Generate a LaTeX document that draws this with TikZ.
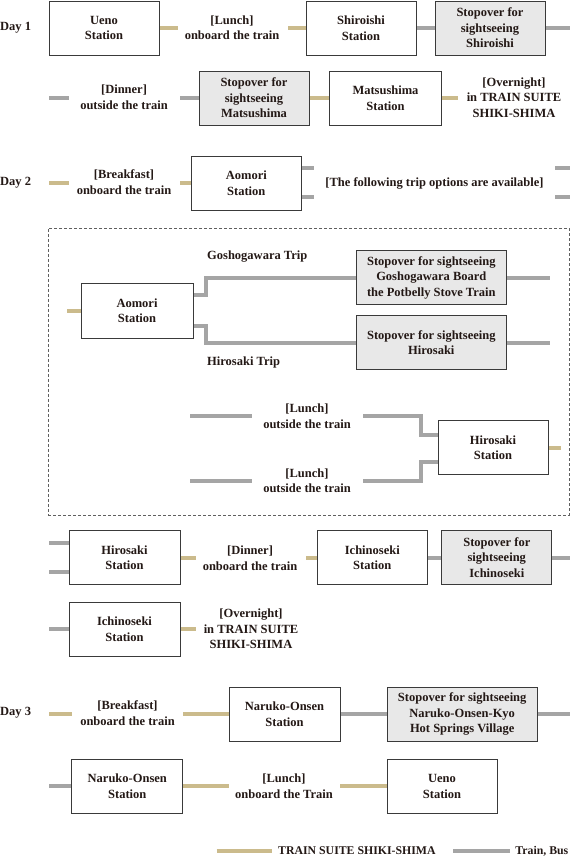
\documentclass[tikz,border=0pt]{standalone}
\usepackage{fontspec}
\setmainfont{Liberation Serif}
\usetikzlibrary{backgrounds}
\definecolor{goldl}{HTML}{CBBB8C}
\definecolor{greyl}{HTML}{A5A5A5}
\definecolor{stopfill}{HTML}{E8E8E8}
\definecolor{boxline}{HTML}{3A3A3A}
\definecolor{txt}{HTML}{231815}
\definecolor{dashc}{HTML}{606060}
\begin{document}
\begin{tikzpicture}[x=1pt,y=-1pt,
  every node/.style={font=\bfseries\fontsize{12.5}{15.5}\selectfont, text=txt, align=center, inner sep=0pt},
  stn/.style={draw=boxline, line width=0.9pt, fill=white, minimum width=110pt, minimum height=54pt},
  stop/.style={stn, fill=stopfill},
  wide/.style={minimum width=150pt},
  gl/.style={draw=goldl, line width=4pt},
  gr/.style={draw=greyl, line width=4pt},
  legtext/.style={font=\bfseries\fontsize{11.8}{14}\selectfont},
  optframe/.style={draw=dashc, line width=0.8pt, dash pattern=on 3pt off 2pt}
  ]
\useasboundingbox (0,0) rectangle (570,857);

% ---------- Day 1 ----------
\node[anchor=west] (day1) at (0,28) {Day 1};
\node[stn] (ueno1) at (104,28) {Ueno\\Station};
\node (lunch1) at (232,27.5) {[Lunch]\\onboard the train};
\node[stn] (shiro) at (361,28) {Shiroishi\\Station};
\node[stop] (stopshiro) at (490,28) {Stopover for\\sightseeing\\Shiroishi};
\coordinate (c1a) at (178,28);
\coordinate (c1b) at (288,28);
\coordinate (c1c) at (570,28);

\coordinate (c2a) at (49,98);
\coordinate (c2b) at (69,98);
\coordinate (c2c) at (180,98);
\coordinate (c2d) at (458,98);
\node (dinner1) at (124,97) {[Dinner]\\outside the train};
\node[stop] (stopmatsu) at (254,98) {Stopover for\\sightseeing\\Matsushima};
\node[stn, minimum width=112pt] (matsu) at (385.5,98) {Matsushima\\Station};
\node (night1) at (514,97.5) {[Overnight]\\in TRAIN SUITE\\SHIKI-SHIMA};

% ---------- Day 2 ----------
\node[anchor=west] (day2) at (0,183) {Day 2};
\coordinate (d2a) at (49,183);
\coordinate (d2b) at (69,183);
\coordinate (d2c) at (180,183);
\node (bf2) at (124,182) {[Breakfast]\\onboard the train};
\node[stn] (aomori1) at (246.3,183) {Aomori\\Station};
\coordinate (d2s1) at (314,168);
\coordinate (d2s2) at (314,197);
\coordinate (d2r1) at (555,168);
\coordinate (d2r1e) at (570,168);
\coordinate (d2r2) at (555,197);
\coordinate (d2r2e) at (570,197);
\node (options) at (434.5,183) {[The following trip options are available]};

% ---------- options frame ----------
\node[optframe, minimum width=521pt, minimum height=287pt] (optbox) at (308.5,371.5) {};
\node[stn, minimum width=112pt, minimum height=55pt] (aomori2) at (137,310.5) {Aomori\\Station};
\coordinate (o0) at (67,310.5);
\node[stop, wide] (gosho) at (431.3,277.5) {Stopover for sightseeing\\Goshogawara Board\\the Potbelly Stove Train};
\node[stop, wide] (hirostop) at (431.3,342.5) {Stopover for sightseeing\\Hirosaki};
\coordinate (ge) at (550,277.5);
\coordinate (he) at (550,342.5);
\node[anchor=west] (goshotrip) at (207,257) {Goshogawara Trip};
\node[anchor=west] (hirotrip) at (207,362) {Hirosaki Trip};

\node (lunch2a) at (307,416) {[Lunch]\\outside the train};
\node (lunch2b) at (307,480.5) {[Lunch]\\outside the train};
\node[stn] (hirosta) at (493,447.7) {Hirosaki\\Station};
\coordinate (la0) at (190,415.6);
\coordinate (la1) at (252,415.6);
\coordinate (la2) at (363,415.6);
\coordinate (lb0) at (190,481);
\coordinate (lb1) at (252,481);
\coordinate (lb2) at (363,481);
\coordinate (hs) at (561,447.7);

% ---------- Day 2 afternoon ----------
\node[stn, minimum width=111pt] (hirosta2) at (124.5,557.5) {Hirosaki\\Station};
\coordinate (h2a) at (49,542.7);
\coordinate (h2b) at (49,572.3);
\coordinate (h2c) at (196,557.5);
\node (dinner2) at (250,558) {[Dinner]\\onboard the train};
\coordinate (h2d) at (306,557.5);
\node[stn] (ichi) at (372.3,557.5) {Ichinoseki\\Station};
\node[stop] (stopichi) at (496.8,557.5) {Stopover for\\sightseeing\\Ichinoseki};
\coordinate (h2e) at (570,557.5);

\node[stn, minimum width=111pt] (ichi2) at (124.5,629.3) {Ichinoseki\\Station};
\coordinate (i2a) at (49,629.3);
\coordinate (i2b) at (196,629.3);
\node (night2) at (251,629) {[Overnight]\\in TRAIN SUITE\\SHIKI-SHIMA};

% ---------- Day 3 ----------
\node[anchor=west] (day3) at (0,713) {Day 3};
\coordinate (d3a) at (49,714);
\coordinate (d3b) at (72,714);
\node (bf3) at (127.5,713) {[Breakfast]\\onboard the train};
\coordinate (d3c) at (183,714);
\node[stn, minimum width=111pt] (naruko) at (284.5,714) {Naruko-Onsen\\Station};
\node[stop, wide] (stopnaruko) at (462.2,714) {Stopover for sightseeing\\Naruko-Onsen-Kyo\\Hot Springs Village};
\coordinate (d3e) at (570,714);

\node[stn, minimum width=111pt] (naruko2) at (127.3,786.3) {Naruko-Onsen\\Station};
\coordinate (n2a) at (49,786.3);
\coordinate (n2b) at (229,786.3);
\node (lunch3) at (284,786) {[Lunch]\\onboard the Train};
\coordinate (n2c) at (340,786.3);
\node[stn] (ueno2) at (442,786.3) {Ueno\\Station};

% ---------- legend ----------
\coordinate (lg1) at (216.7,851.2);
\coordinate (lg2) at (271.7,851.2);
\node[legtext, anchor=west] (lgt1) at (278,851) {TRAIN SUITE SHIKI-SHIMA};
\coordinate (lg3) at (453,851.2);
\coordinate (lg4) at (510,851.2);
\node[legtext, anchor=east] (lgt2) at (568.5,851) {Train, Bus};

% ---------- connectors ----------
\begin{scope}[on background layer]
\draw[gl] (ueno1.east) -- (c1a);
\draw[gl] (c1b) -- (shiro.west);
\draw[gr] (shiro.east) -- (stopshiro.west);
\draw[gr] (stopshiro.east) -- (c1c);

\draw[gr] (c2a) -- (c2b);
\draw[gr] (c2c) -- (stopmatsu.west);
\draw[gl] (stopmatsu.east) -- (matsu.west);
\draw[gl] (matsu.east) -- (c2d);

\draw[gl] (d2a) -- (d2b);
\draw[gl] (d2c) -- (aomori1.west);
\draw[gr] (d2s1 -| aomori1.east) -- (d2s1);
\draw[gr] (d2s2 -| aomori1.east) -- (d2s2);
\draw[gr] (d2r1) -- (d2r1e);
\draw[gr] (d2r2) -- (d2r2e);

\draw[gl] (o0) -- (aomori2.west);
\draw[gr] ([yshift=15.5pt]aomori2.east) -- ++(12.6,0) |- (gosho.west);
\draw[gr] ([yshift=-15pt]aomori2.east) -- ++(12.6,0) |- (hirostop.west);
\draw[gr] (gosho.east) -- (ge);
\draw[gr] (hirostop.east) -- (he);

\draw[gr] (la0) -- (la1);
\draw[gr] (la2) -- ++(58,0) |- ([yshift=12.7pt]hirosta.west);
\draw[gr] (lb0) -- (lb1);
\draw[gr] (lb2) -- ++(58,0) |- ([yshift=-14.3pt]hirosta.west);
\draw[gl] (hirosta.east) -- (hs);

\draw[gr] (h2a) -- (h2a -| hirosta2.west);
\draw[gr] (h2b) -- (h2b -| hirosta2.west);
\draw[gl] (hirosta2.east) -- (h2c);
\draw[gl] (h2d) -- (ichi.west);
\draw[gr] (ichi.east) -- (stopichi.west);
\draw[gr] (stopichi.east) -- (h2e);

\draw[gr] (i2a) -- (ichi2.west);
\draw[gl] (ichi2.east) -- (i2b);

\draw[gl] (d3a) -- (d3b);
\draw[gl] (d3c) -- (naruko.west);
\draw[gr] (naruko.east) -- (stopnaruko.west);
\draw[gr] (stopnaruko.east) -- (d3e);

\draw[gr] (n2a) -- (naruko2.west);
\draw[gl] (naruko2.east) -- (n2b);
\draw[gl] (n2c) -- (ueno2.west);

\draw[gl] (lg1) -- (lg2);
\draw[gr] (lg3) -- (lg4);
\end{scope}
\end{tikzpicture}
\end{document}
